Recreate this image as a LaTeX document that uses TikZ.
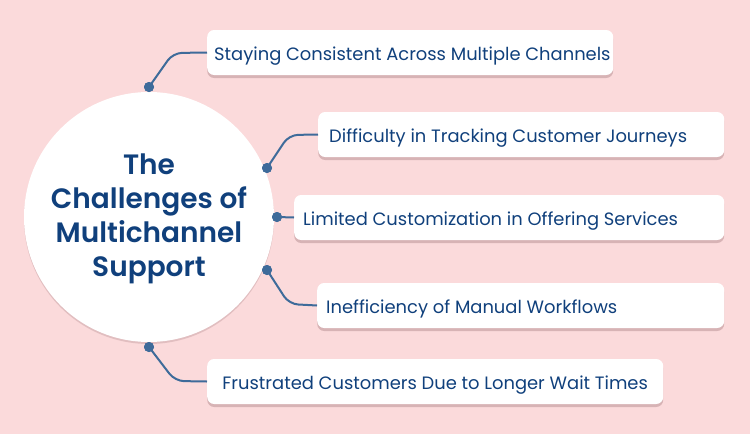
\documentclass[tikz,border=0pt]{standalone}
\usepackage{fontspec}
\setmainfont{Poppins}[BoldFont={Poppins SemiBold}]
\usetikzlibrary{shadows}
\definecolor{bgpink}{HTML}{FBDADB}
\definecolor{navy}{HTML}{10407C}
\definecolor{linkblue}{HTML}{3E6B9A}
\definecolor{shadowc}{HTML}{C9A3A6}
\tikzset{
  itembox/.style={draw=none, fill=white, rounded corners=7pt, inner ysep=0pt,
    minimum height=45pt, anchor=west, text=navy, font=\fontsize{17.9}{20}\selectfont,
    text height=19pt, text depth=4pt,
    drop shadow={shadow xshift=0pt, shadow yshift=-3pt, fill=shadowc, opacity=0.7}},
  hubcircle/.style={circle, fill=white, minimum size=250pt, inner sep=0pt,
    drop shadow={shadow xshift=0pt, shadow yshift=-2pt, fill=shadowc, opacity=0.5}},
  dotmark/.style={circle, fill=linkblue, minimum size=10pt, inner sep=0pt},
  link/.style={draw=linkblue, line width=2pt, rounded corners=9pt},
}
\begin{document}
\begin{tikzpicture}[x=1pt,y=-1pt]
\fill[bgpink] (0,0) rectangle (750,434);
\useasboundingbox (0,0) rectangle (750,434);
% hub
\node[hubcircle] (hub) at (149,217) {};
\node[text=navy, align=center, font=\fontsize{28}{34}\selectfont\bfseries] (title) at (149,219)
  {The\\Challenges of\\Multichannel\\Support};
% boxes
\node[itembox, minimum width=406pt, inner xsep=7pt] (b1) at (207,52.5)
  {\makebox[392pt][l]{Staying Consistent Across Multiple Channels}};
\node[itembox, minimum width=406pt, inner xsep=11pt] (b2) at (318,134.5)
  {\makebox[384pt][l]{Difficulty in Tracking Customer Journeys}};
\node[itembox, minimum width=430pt, inner xsep=9pt] (b3) at (294,217.5)
  {\makebox[412pt][l]{Limited Customization in Offering Services}};
\node[itembox, minimum width=407pt, inner xsep=9pt] (b4) at (317,305.5)
  {\makebox[389pt][l]{Inefficiency of Manual Workflows}};
\node[itembox, minimum width=456pt, inner xsep=18pt] (b5) at (207,381.5)
  {\makebox[420pt][c]{Frustrated Customers Due to Longer Wait Times}};
% dots
\node[dotmark] (d1) at (149,87) {};
\node[dotmark] (d2) at (267,168) {};
\node[dotmark] (d3) at (277,217) {};
\node[dotmark] (d4) at (267,270) {};
\node[dotmark] (d5) at (149,347) {};
% connectors
\coordinate (k1) at (173,53);
\coordinate (k2) at (289,135);
\coordinate (k4) at (289,304);
\coordinate (k5) at (175,381);
\draw[link] (d1.center) -- (k1) -- (b1.west);
\draw[link] (d2.center) -- (k2) -- (b2.west);
\draw[link] (d3.center) -- (b3.west);
\draw[link] (d4.center) -- (k4) -- (b4.west);
\draw[link] (d5.center) -- (k5) -- (b5.west);
\node[dotmark] at (d1) {};
\node[dotmark] at (d2) {};
\node[dotmark] at (d3) {};
\node[dotmark] at (d4) {};
\node[dotmark] at (d5) {};
\end{tikzpicture}
\end{document}
